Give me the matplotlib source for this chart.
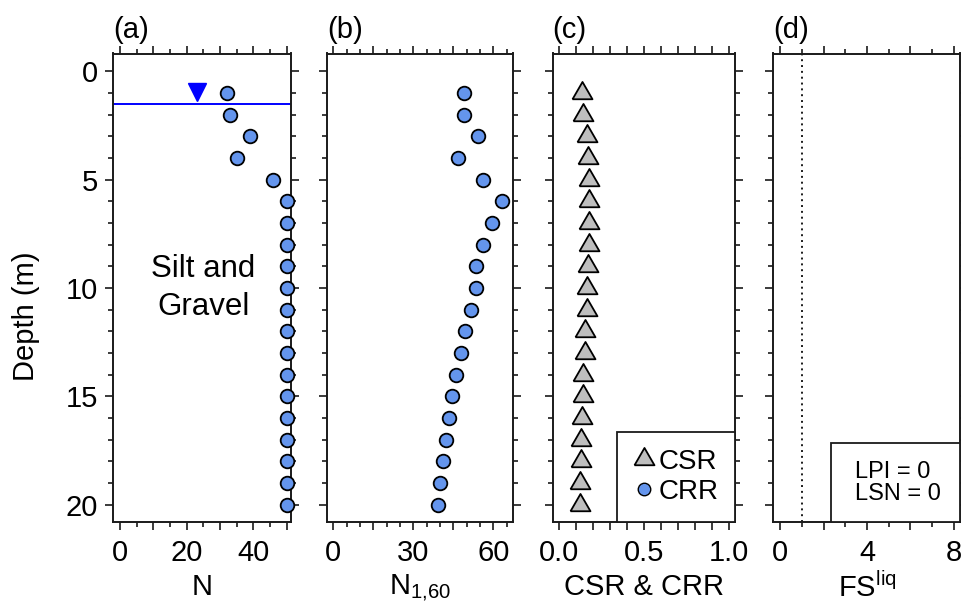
import matplotlib
matplotlib.use("Agg")
import matplotlib.pyplot as plt
from matplotlib.ticker import MultipleLocator, FixedLocator
from matplotlib.patches import Rectangle

plt.rcParams['font.family'] = ['Liberation Sans', 'DejaVu Sans']
plt.rcParams['mathtext.fontset'] = 'custom'
plt.rcParams['mathtext.rm'] = 'Liberation Sans'
plt.rcParams['mathtext.it'] = 'Liberation Sans:italic'
plt.rcParams['font.size'] = 21

# SPT profile, one reading per metre
depth = [1, 2, 3, 4, 5, 6, 7, 8, 9, 10, 11, 12, 13, 14, 15, 16, 17, 18, 19, 20]
n_spt = [32, 33, 39, 35, 46, 50, 50, 50, 50, 50, 50, 50, 50, 50, 50, 50, 50, 50, 50, 50]
n160 = [49.1, 48.9, 54.2, 46.6, 56.1, 63.2, 59.4, 56.1, 53.4, 53.6,
        51.5, 49.4, 47.8, 46.1, 44.7, 43.5, 42.1, 41.1, 40.2, 39.2]
csr = [0.133, 0.143, 0.163, 0.169, 0.175, 0.178, 0.178, 0.173, 0.169, 0.165,
       0.163, 0.153, 0.149, 0.143, 0.139, 0.137, 0.131, 0.129, 0.125, 0.120]
# no liquefiable layers -> no CRR / FS points inside the plotted range
crr_depth, crr = [], []
fs_depth, fs = [], []
gwt = 1.5
lpi, lsn = 0, 0

W, H = 962, 611
fig = plt.figure(figsize=(W / 100, H / 100), dpi=100)

top_px, bot_px = 53.5, 521.5
cols = [(113, 291.3), (327.3, 513.3), (552.7, 735), (773.3, 960.5)]
axs = []
for l, r in cols:
    axs.append(fig.add_axes([l / W, 1 - bot_px / H, (r - l) / W, (bot_px - top_px) / H]))

edge = '#1a1a1a'
blue = '#6495ED'
grey = '#BEBEBE'
# equilateral triangle marker, closed
tri = [(-1, -0.577), (1, -0.577), (0, 1.155), (-1, -0.577)]

for ax in axs:
    ax.set_ylim(20.78, -0.83)
    ax.yaxis.set_major_locator(MultipleLocator(5))
    ax.yaxis.set_minor_locator(MultipleLocator(1))
    ax.tick_params(which='both', direction='out', top=True, right=True,
                   width=1.2, color=edge)
    ax.tick_params(which='major', length=5.8)
    ax.tick_params(which='minor', length=3.4)
    ax.tick_params(axis='x', pad=7)
    ax.tick_params(axis='y', pad=5)
    for s in ax.spines.values():
        s.set_linewidth(1.4)
        s.set_color(edge)

# (a) N
ax = axs[0]
ax.plot(n_spt, depth, 'o', ms=9.8, mfc=blue, mec='black', mew=1.3, clip_on=False, zorder=5)
ax.axhline(gwt, color='#0000FF', lw=1.4)
ax.plot([23], [gwt - 0.57], 'v', ms=13.5, color='#0000FF')
ax.set_xlim(-2.1, 51.4)
ax.xaxis.set_major_locator(MultipleLocator(10))
ax.xaxis.set_minor_locator(MultipleLocator(5))
ax.xaxis.set_major_formatter(plt.FuncFormatter(lambda v, p: f'{v:.0f}' if round(v) % 20 == 0 else ''))
ax.set_xlabel('N')
ax.text(25, 10, 'Silt and\nGravel', ha='center', va='center', fontsize=22.5, linespacing=1.35)

# (b) N1,60
ax = axs[1]
ax.plot(n160, depth, 'o', ms=9.8, mfc=blue, mec='black', mew=1.3, zorder=5)
ax.set_xlim(-2.25, 67.5)
ax.xaxis.set_major_locator(MultipleLocator(15))
ax.xaxis.set_minor_locator(MultipleLocator(5))
ax.xaxis.set_major_formatter(plt.FuncFormatter(lambda v, p: f'{v:.0f}' if round(v) % 30 == 0 else ''))
ax.set_xlabel(r'N$_{\mathrm{1{,}60}}$')

# (c) CSR & CRR
ax = axs[2]
ax.plot(csr, depth, linestyle='none', marker=tri, ms=16.6, mfc=grey, mec='black', mew=1.3,
        label='CSR', zorder=5)
ax.plot(crr, crr_depth, 'o', ms=9.0, mfc=blue, mec='black', mew=1.0, label='CRR', zorder=5)
ax.set_xlim(-0.038, 1.034)
ax.xaxis.set_major_locator(FixedLocator([0, 0.5, 1.0]))
ax.xaxis.set_minor_locator(MultipleLocator(0.1))
ax.xaxis.set_major_formatter(plt.FuncFormatter(lambda v, p: f'{v:.1f}'))
ax.tick_params(axis='x', which='minor', length=5.8)
ax.set_xlabel('CSR & CRR')
leg = ax.legend(loc='lower right', borderaxespad=0, fontsize=20, frameon=True, fancybox=False,
                handlelength=0.8, handletextpad=0.1, labelspacing=0.15, borderpad=0.6)
leg.get_frame().set_edgecolor(edge)
leg.get_frame().set_linewidth(1.3)
leg.get_frame().set_alpha(1)

# (d) FS liq
ax = axs[3]
ax.plot(fs, fs_depth, 'o', ms=9.8, mfc=blue, mec='black')
ax.axvline(1, color=edge, lw=1.4, ls=(0, (1, 2)))
ax.set_xlim(-0.31, 8.3)
ax.xaxis.set_major_locator(MultipleLocator(2))
ax.xaxis.set_minor_locator(MultipleLocator(1))
ax.xaxis.set_major_formatter(plt.FuncFormatter(lambda v, p: f'{v:.0f}' if round(v) % 4 == 0 else ''))
ax.set_xlabel(r'FS$^{\mathrm{liq}}$')
ax.add_patch(Rectangle((0.309, 0), 0.691, 0.168, transform=ax.transAxes, fill=True,
                       fc='white', ec=edge, lw=1.3, zorder=4))
ax.text(3.47, 19.0, f'LPI = {lpi}\nLSN = {lsn}', ha='left', va='center', fontsize=17,
        linespacing=1.05, zorder=6)

for ax in axs[1:]:
    ax.set_yticklabels([])

for ax, lab in zip(axs, ['(a)', '(b)', '(c)', '(d)']):
    ax.text(0.0, 1.02, lab, transform=ax.transAxes, ha='left', va='bottom')

fig.text(26.4 / W, 1 - 316 / H, 'Depth (m)', rotation=90, ha='center', va='center')

fig.savefig('out.png', dpi=100)
